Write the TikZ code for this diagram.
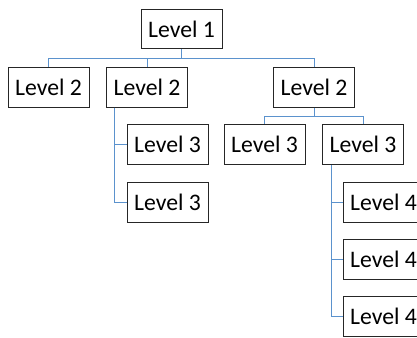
\documentclass[tikz,border=0pt]{standalone}
\usepackage{fontspec}
\setmainfont{Carlito}
\definecolor{linkblue}{RGB}{91,146,205}
\begin{document}
\begin{tikzpicture}[x=1pt,y=-1pt,
  box/.style={draw=black!85,line width=1pt,fill=white,minimum width=81pt,minimum height=40pt,inner sep=0pt,font=\fontsize{23.7}{26}\selectfont},
  link/.style={draw=linkblue,line width=1pt}]
\useasboundingbox (0,0) rectangle (417,337);
\clip (0,0) rectangle (417,337);
\node[box,minimum height=39pt] (L1) at (181.5,29.5) {Level 1};
\node[box] (L2a) at (48.5,87) {Level 2};
\node[box] (L2b) at (147,87) {Level 2};
\node[box] (L2c) at (314,87) {Level 2};
\node[box] (L3a) at (167.5,144.5) {Level 3};
\node[box] (L3b) at (167.5,202) {Level 3};
\node[box] (L3c) at (264.5,144.5) {Level 3};
\node[box] (L3d) at (363,144.5) {Level 3};
\node[box] (L4a) at (383.5,202) {Level 4};
\node[box] (L4b) at (383.5,259) {Level 4};
\node[box] (L4c) at (383.5,316.5) {Level 4};
\coordinate (bus1) at (0,58);
\coordinate (bus2) at (0,116);
\coordinate (t2) at ([xshift=8pt]L2b.south west);
\coordinate (t3) at ([xshift=9pt]L3d.south west);
\begin{scope}[on background layer/.style={}]
\draw[link] (L1.south) -- (L1.south |- bus1) -| (L2a.north);
\draw[link] (L1.south |- bus1) -| (L2b.north);
\draw[link] (L1.south |- bus1) -| (L2c.north);
\draw[link] (L2c.south) -- (L2c.south |- bus2) -| (L3c.north);
\draw[link] (L2c.south |- bus2) -| (L3d.north);
\draw[link] (t2) |- (L3a.west);
\draw[link] (t2) |- (L3b.west);
\draw[link] (t3) |- (L4a.west);
\draw[link] (t3) |- (L4b.west);
\draw[link] (t3) |- (L4c.west);
\end{scope}
\end{tikzpicture}
\end{document}
